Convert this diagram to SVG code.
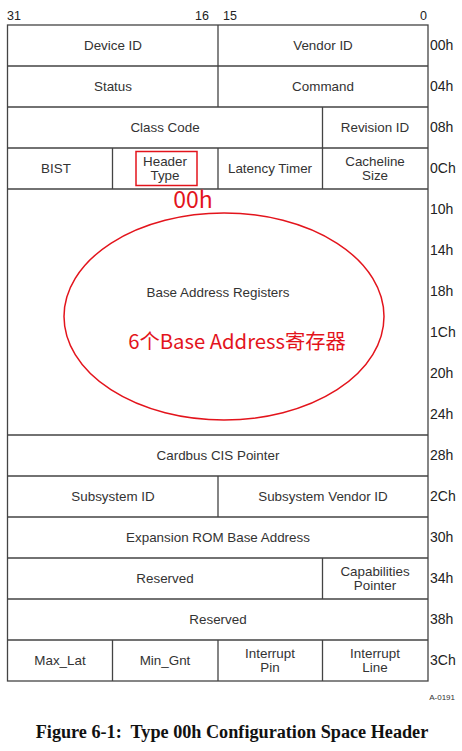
<svg xmlns="http://www.w3.org/2000/svg" width="462" height="751" viewBox="0 0 462 751">
<style>
.c{fill:none;stroke:#444;stroke-width:1.3}
.t{font-family:"Liberation Sans",Arial,sans-serif;font-size:13.4px;fill:#333;text-anchor:middle}
.o{font-family:"Liberation Sans",Arial,sans-serif;font-size:14px;fill:#222}
.b{font-family:"Liberation Sans",Arial,sans-serif;font-size:12.5px;fill:#222}
.r{fill:none;stroke:#e3141c}
</style>
<rect width="462" height="751" fill="#fff"/>
<g id="bits">
<text class="b" x="7" y="20">31</text>
<text class="b" x="209" y="20" text-anchor="end">16</text>
<text class="b" x="223" y="20">15</text>
<text class="b" x="427" y="20" text-anchor="end">0</text>
</g>
<g id="grid">
<rect class="c" x="7.5" y="25" width="420.5" height="656"/>
<path class="c" d="M7.5 66H428M7.5 107H428M7.5 148H428M7.5 189H428M7.5 435H428M7.5 476H428M7.5 517H428M7.5 558H428M7.5 599H428M7.5 640H428"/>
<path class="c" d="M218 25V107M322.5 107V189M112.5 148V189M218 148V189M218 476V517M322.5 558V599M112.5 640V681M218 640V681M322.5 640V681"/>
</g>
<g id="row00"><text class="t" x="113" y="50">Device ID</text><text class="t" x="323" y="50">Vendor ID</text><text class="o" x="430" y="50">00h</text></g>
<g id="row04"><text class="t" x="113" y="91">Status</text><text class="t" x="323" y="91">Command</text><text class="o" x="430" y="91">04h</text></g>
<g id="row08"><text class="t" x="165" y="132">Class Code</text><text class="t" x="375" y="132">Revision ID</text><text class="o" x="430" y="132">08h</text></g>
<g id="row0C"><text class="t" x="56" y="173">BIST</text><text class="t" x="165" y="166">Header</text><text class="t" x="165" y="180">Type</text><text class="t" x="270" y="173">Latency Timer</text><text class="t" x="375" y="166">Cacheline</text><text class="t" x="375" y="180">Size</text><text class="o" x="430" y="173">0Ch</text></g>
<g id="bar">
<text class="t" x="218" y="297">Base Address Registers</text>
<text class="o" x="430" y="214">10h</text><text class="o" x="430" y="255">14h</text><text class="o" x="430" y="296">18h</text><text class="o" x="430" y="337">1Ch</text><text class="o" x="430" y="378">20h</text><text class="o" x="430" y="419">24h</text>
</g>
<g id="row28"><text class="t" x="218" y="460">Cardbus CIS Pointer</text><text class="o" x="430" y="460">28h</text></g>
<g id="row2C"><text class="t" x="113" y="501">Subsystem ID</text><text class="t" x="323" y="501">Subsystem Vendor ID</text><text class="o" x="430" y="501">2Ch</text></g>
<g id="row30"><text class="t" x="218" y="542">Expansion ROM Base Address</text><text class="o" x="430" y="542">30h</text></g>
<g id="row34"><text class="t" x="165" y="583">Reserved</text><text class="t" x="375" y="576">Capabilities</text><text class="t" x="375" y="590">Pointer</text><text class="o" x="430" y="583">34h</text></g>
<g id="row38"><text class="t" x="218" y="624">Reserved</text><text class="o" x="430" y="624">38h</text></g>
<g id="row3C"><text class="t" x="60" y="665">Max_Lat</text><text class="t" x="165" y="665">Min_Gnt</text><text class="t" x="270" y="658">Interrupt</text><text class="t" x="270" y="672">Pin</text><text class="t" x="375" y="658">Interrupt</text><text class="t" x="375" y="672">Line</text><text class="o" x="430" y="665">3Ch</text></g>
<g id="annotations">
<rect class="r" x="136" y="151.5" width="61" height="34" stroke-width="1.5"/>
<text x="193" y="208" font-family="'Noto Sans CJK SC','Liberation Sans',sans-serif" font-size="23" fill="#e3141c" text-anchor="middle">00h</text>
<ellipse class="r" cx="224" cy="316.5" rx="160" ry="103.5" stroke-width="1.5"/>
<text x="237" y="349" font-family="'Noto Sans CJK SC',sans-serif" font-size="20.3" fill="#e3141c" text-anchor="middle">6个Base Address寄存器</text>
</g>
<text x="455" y="700" font-family="'Liberation Sans',Arial,sans-serif" font-size="8" fill="#333" text-anchor="end">A-0191</text>
<text x="232" y="738" xml:space="preserve" font-family="'Liberation Serif','Times New Roman',serif" font-size="18.2" font-weight="bold" fill="#111" text-anchor="middle">Figure 6-1:  Type 00h Configuration Space Header</text>
</svg>
